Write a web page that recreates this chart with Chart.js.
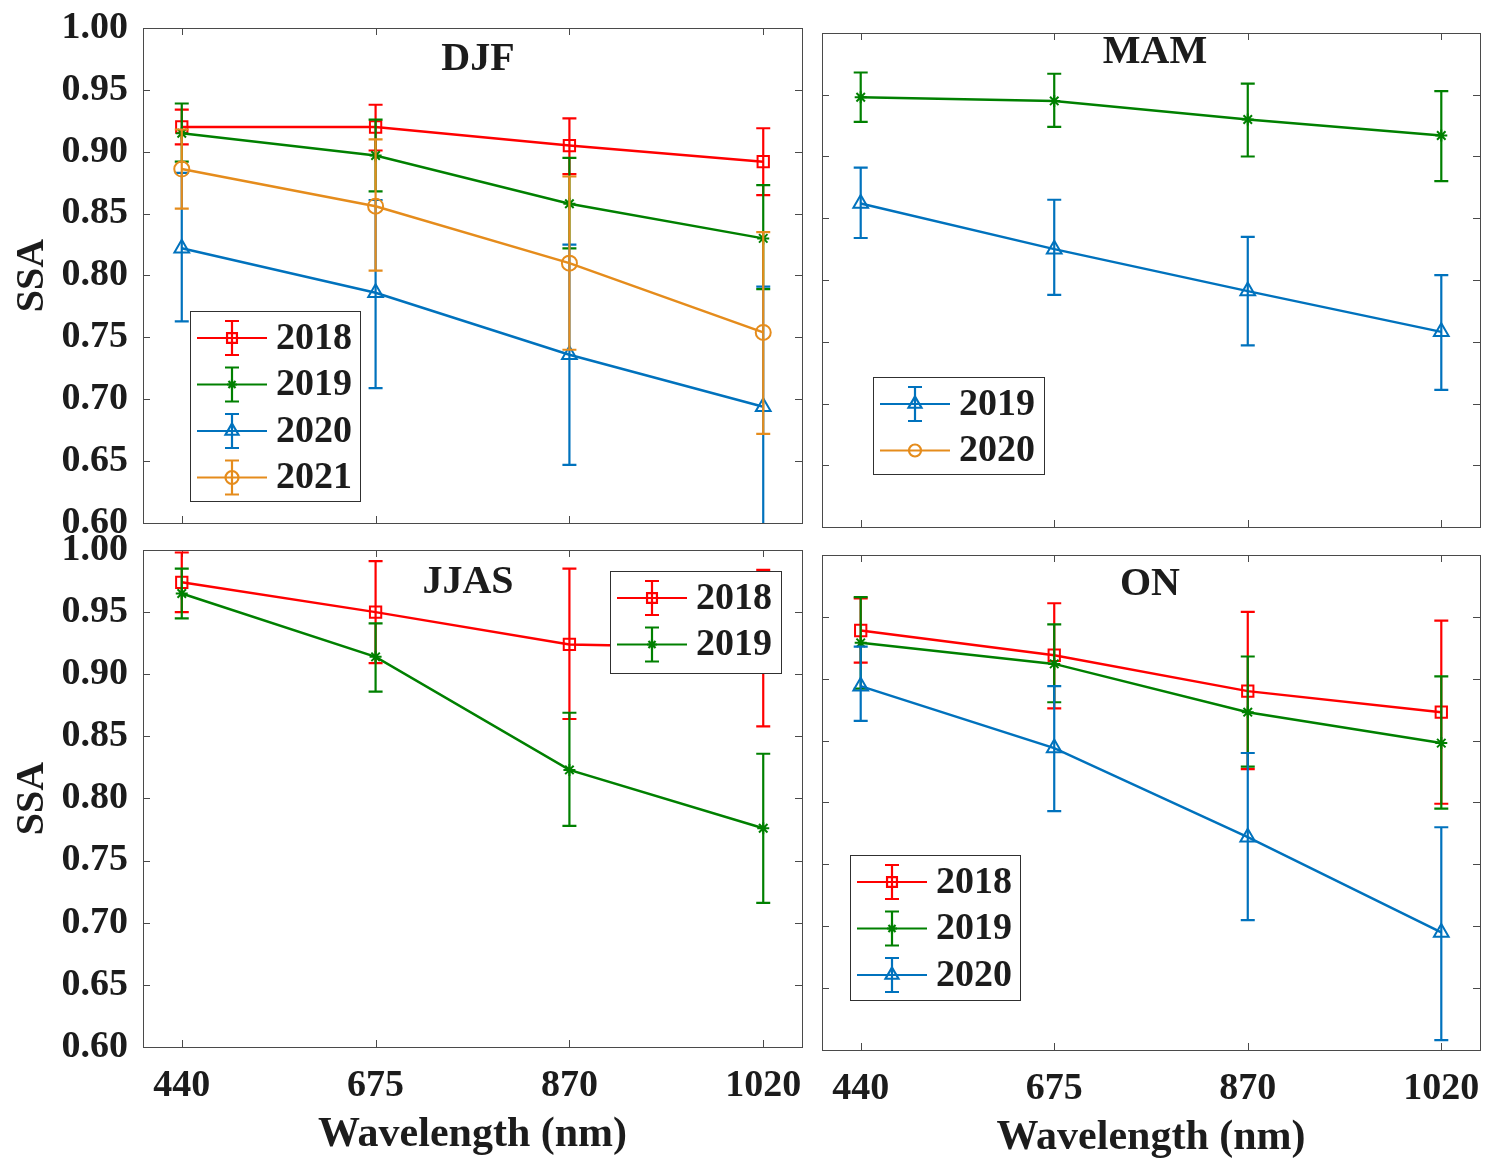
<!DOCTYPE html>
<html>
<head>
<meta charset="utf-8">
<script src="https://cdn.jsdelivr.net/npm/chart.js@4.4.0/dist/chart.umd.min.js"></script>
<style>
  html, body { margin: 0; padding: 0; background: #ffffff; }
  body { width: 1486px; height: 1161px; position: relative; overflow: hidden; }
  canvas { position: absolute; }
</style>
</head>
<body>
<canvas id="djf" width="812" height="560" style="left:0px;top:0px"></canvas>
<canvas id="mam" width="674" height="560" style="left:812px;top:0px"></canvas>
<canvas id="jjas" width="812" height="651" style="left:0px;top:510px"></canvas>
<canvas id="on" width="674" height="651" style="left:812px;top:510px"></canvas>
<script>
// Wavelength categories and SSA tick values
const wavelengths = ['440', '675', '870', '1020'];
const ssaTicks = [0.60, 0.65, 0.70, 0.75, 0.80, 0.85, 0.90, 0.95, 1.00];

// DJF season: mean SSA and lower/upper error-bar ends
const djf2018 = [0.920, 0.920, 0.905, 0.892];
const djf2018Low = [0.906, 0.901, 0.882, 0.865];
const djf2018High = [0.934, 0.938, 0.927, 0.919];
const djf2019 = [0.915, 0.897, 0.858, 0.830];
const djf2019Low = [0.892, 0.868, 0.822, 0.789];
const djf2019High = [0.939, 0.926, 0.895, 0.873];
const djf2020 = [0.822, 0.786, 0.736, 0.694];
const djf2020Low = [0.763, 0.709, 0.647, 0.597];
const djf2020High = [0.883, 0.861, 0.825, 0.791];
const djf2021 = [0.886, 0.856, 0.810, 0.754];
const djf2021Low = [0.854, 0.804, 0.740, 0.672];
const djf2021High = [0.918, 0.910, 0.880, 0.835];

// MAM season
const mam2019 = [0.948, 0.945, 0.930, 0.917];
const mam2019Low = [0.928, 0.924, 0.900, 0.880];
const mam2019High = [0.968, 0.967, 0.959, 0.953];
const mam2020 = [0.862, 0.825, 0.791, 0.758];
const mam2020Low = [0.834, 0.788, 0.747, 0.711];
const mam2020High = [0.891, 0.865, 0.835, 0.804];

// JJAS season
const jjas2018 = [0.974, 0.950, 0.924, 0.921];
const jjas2018Low = [0.950, 0.909, 0.864, 0.858];
const jjas2018High = [0.998, 0.991, 0.985, 0.984];
const jjas2019 = [0.965, 0.914, 0.823, 0.776];
const jjas2019Low = [0.945, 0.886, 0.778, 0.716];
const jjas2019High = [0.985, 0.941, 0.869, 0.836];

// ON season
const on2018 = [0.939, 0.919, 0.890, 0.873];
const on2018Low = [0.913, 0.876, 0.827, 0.799];
const on2018High = [0.965, 0.961, 0.954, 0.947];
const on2019 = [0.929, 0.912, 0.873, 0.848];
const on2019Low = [0.892, 0.881, 0.829, 0.795];
const on2019High = [0.966, 0.944, 0.918, 0.902];
const on2020 = [0.894, 0.844, 0.772, 0.695];
const on2020Low = [0.866, 0.793, 0.705, 0.608];
const on2020High = [0.926, 0.894, 0.840, 0.780];

// Line/marker style per year
const yearStyle = {
  '2018': { color: '#ff0000', marker: 'rect', radius: 8 },
  '2019': { color: '#008000', marker: 'star', radius: 6 },
  '2020': { color: '#0072bd', marker: 'triangle', radius: 8.5 },
  '2021': { color: '#e58c1c', marker: 'circle', radius: 7.5 }
};

const FONT = "'Liberation Serif', 'Times New Roman', serif";
const TEXT = '#1c1c1c';
const FRAME = '#4a4a4a';

function series(year, values, low, high, idx) {
  const s = yearStyle[year];
  return {
    label: year,
    data: values.map((v, i) => ({ x: i, y: v })),
    lower: low,
    upper: high,
    borderColor: s.color,
    backgroundColor: 'rgba(0,0,0,0)',
    pointBorderColor: s.color,
    pointBackgroundColor: 'rgba(0,0,0,0)',
    pointStyle: s.marker,
    pointRadius: s.radius,
    pointBorderWidth: 2,
    borderWidth: 2.5,
    tension: 0,
    order: -idx
  };
}

// Vertical error bars with caps, drawn under each dataset's line
const errorBars = {
  id: 'errorBars',
  beforeDatasetDraw(chart, args) {
    const ds = chart.data.datasets[args.index];
    if (!ds.lower) return;
    const { ctx, chartArea: a } = chart;
    const xs = chart.scales.x, ys = chart.scales.y;
    ctx.save();
    ctx.beginPath();
    ctx.rect(a.left, a.top, a.right - a.left, a.bottom - a.top);
    ctx.clip();
    ctx.strokeStyle = ds.borderColor;
    ctx.lineWidth = 2.2;
    ds.data.forEach((p, i) => {
      const px = xs.getPixelForValue(p.x);
      const lo = ys.getPixelForValue(ds.lower[i]);
      const hi = ys.getPixelForValue(ds.upper[i]);
      ctx.beginPath();
      ctx.moveTo(px, lo); ctx.lineTo(px, hi);
      ctx.moveTo(px - 7, lo); ctx.lineTo(px + 7, lo);
      ctx.moveTo(px - 7, hi); ctx.lineTo(px + 7, hi);
      ctx.stroke();
    });
    ctx.restore();
  }
};

// Axes box with inward ticks on all four sides, panel title and legend
const panelDecor = {
  id: 'panelDecor',
  beforeDatasetsDraw(chart, args, opts) {
    const { ctx, chartArea: a } = chart;
    const xs = chart.scales.x, ys = chart.scales.y;
    ctx.save();
    ctx.strokeStyle = FRAME;
    ctx.lineWidth = 1;
    ctx.beginPath();
    ys.ticks.forEach(t => {
      const py = Math.round(ys.getPixelForValue(t.value)) + 0.5;
      ctx.moveTo(a.left, py); ctx.lineTo(a.left + 7, py);
      ctx.moveTo(a.right, py); ctx.lineTo(a.right - 7, py);
    });
    xs.ticks.forEach(t => {
      const px = Math.round(xs.getPixelForValue(t.value)) + 0.5;
      ctx.moveTo(px, a.bottom); ctx.lineTo(px, a.bottom - 7);
      ctx.moveTo(px, a.top); ctx.lineTo(px, a.top + 7);
    });
    ctx.stroke();
    ctx.strokeRect(Math.round(a.left) + 0.5, Math.round(a.top) + 0.5,
                   Math.round(a.right - a.left), Math.round(a.bottom - a.top));
    ctx.restore();
  },
  afterDraw(chart, args, opts) {
    const ctx = chart.ctx;
    ctx.save();
    ctx.fillStyle = TEXT;
    ctx.font = `bold 40px ${FONT}`;
    ctx.textAlign = 'center';
    ctx.textBaseline = 'middle';
    ctx.fillText(opts.title, opts.titleX, opts.titleY);

    const lg = opts.legend;
    ctx.fillStyle = '#ffffff';
    ctx.fillRect(lg.x, lg.y, lg.w, lg.h);
    ctx.strokeStyle = '#303030';
    ctx.lineWidth = 1;
    ctx.strokeRect(lg.x + 0.5, lg.y + 0.5, lg.w, lg.h);
    lg.rows.forEach((r, i) => {
      const cy = lg.y + 27 + i * 46.5;
      const mx = lg.x + 42;
      ctx.strokeStyle = r.color;
      ctx.lineWidth = 2.2;
      ctx.beginPath();
      ctx.moveTo(lg.x + 7, cy); ctx.lineTo(lg.x + 77, cy);
      if (r.bar) {
        ctx.moveTo(mx, cy - 17); ctx.lineTo(mx, cy + 17);
        ctx.moveTo(mx - 7, cy - 17); ctx.lineTo(mx + 7, cy - 17);
        ctx.moveTo(mx - 7, cy + 17); ctx.lineTo(mx + 7, cy + 17);
      }
      ctx.stroke();
      ctx.fillStyle = 'rgba(0,0,0,0)';
      Chart.helpers.drawPoint(ctx, { pointStyle: r.marker, radius: r.radius, borderWidth: 2, rotation: 0 }, mx, cy);
      ctx.fillStyle = TEXT;
      ctx.font = `bold 38px ${FONT}`;
      ctx.textAlign = 'left';
      ctx.textBaseline = 'middle';
      ctx.fillText(r.label, lg.x + 86, cy + 1);
    });
    ctx.restore();
  }
};

function legendRows(years) {
  return years.map(y => ({ label: y, color: yearStyle[y].color, marker: yearStyle[y].marker,
                           radius: yearStyle[y].radius - 1, bar: true }));
}

// Fixed scale box sizes; tick labels may overhang the plot edges freely
function fixBox(s, prop, size) {
  s[prop] = size;
  s.paddingLeft = 0; s.paddingRight = 0; s.paddingTop = 0; s.paddingBottom = 0;
}

function makePanel(id, cfg) {
  const canvas = document.getElementById(id);
  return new Chart(canvas, {
    type: 'line',
    data: { datasets: cfg.datasets },
    plugins: [errorBars, panelDecor],
    options: {
      responsive: false,
      animation: false,
      events: [],
      layout: {
        autoPadding: false,
        padding: { top: cfg.padTop, right: cfg.padRight, left: 0, bottom: 0 }
      },
      plugins: {
        legend: { display: false },
        tooltip: { enabled: false },
        panelDecor: { title: cfg.title, titleX: cfg.titleX, titleY: cfg.titleY, legend: cfg.legend }
      },
      scales: {
        x: {
          type: 'linear',
          min: -0.2,
          max: 3.2,
          afterBuildTicks: s => { s.ticks = wavelengths.map((w, i) => ({ value: i })); },
          afterFit: s => fixBox(s, 'height', cfg.xHeight),
          grid: { display: false, drawTicks: false },
          border: { display: false },
          ticks: {
            display: cfg.xLabels,
            autoSkip: false,
            maxRotation: 0,
            padding: 16,
            color: TEXT,
            font: { family: FONT, size: 38, weight: 'bold', lineHeight: 1.2 },
            callback: v => wavelengths[v]
          },
          title: {
            display: cfg.xLabels,
            text: 'Wavelength (nm)',
            color: TEXT,
            padding: { top: 0, bottom: cfg.xTitlePad },
            font: { family: FONT, size: 42, weight: 'bold', lineHeight: 1.1 }
          }
        },
        y: {
          type: 'linear',
          min: 0.6,
          max: 1.0,
          afterBuildTicks: s => { s.ticks = ssaTicks.map(v => ({ value: v })); },
          afterFit: s => fixBox(s, 'width', cfg.yWidth),
          grid: { display: false, drawTicks: false },
          border: { display: false },
          ticks: {
            display: cfg.yLabels,
            autoSkip: false,
            padding: 15,
            color: TEXT,
            font: { family: FONT, size: 38, weight: 'bold', lineHeight: 1.2 },
            callback: v => Number(v).toFixed(2)
          },
          title: {
            display: cfg.yLabels,
            text: 'SSA',
            color: TEXT,
            padding: { top: 9, bottom: 0 },
            font: { family: FONT, size: 40, weight: 'bold', lineHeight: 1.2 }
          }
        }
      }
    }
  });
}

function build() {
  makePanel('djf', {
    title: 'DJF', titleX: 478, titleY: 60,
    padTop: 28, padRight: 10, xHeight: 37, yWidth: 143, xLabels: false, yLabels: true, xTitlePad: 0,
    datasets: [
      series('2018', djf2018, djf2018Low, djf2018High, 0),
      series('2019', djf2019, djf2019Low, djf2019High, 1),
      series('2020', djf2020, djf2020Low, djf2020High, 2),
      series('2021', djf2021, djf2021Low, djf2021High, 3)
    ],
    legend: { x: 190, y: 311, w: 170, h: 190, rows: legendRows(['2018', '2019', '2020', '2021']) }
  });

  makePanel('mam', {
    title: 'MAM', titleX: 343, titleY: 53,
    padTop: 33, padRight: 6, xHeight: 33, yWidth: 10, xLabels: false, yLabels: false, xTitlePad: 0,
    datasets: [
      series('2019', mam2019, mam2019Low, mam2019High, 0),
      series('2020', mam2020, mam2020Low, mam2020High, 1)
    ],
    legend: { x: 61, y: 377, w: 171, h: 97, rows: [
      { label: '2019', color: yearStyle['2020'].color, marker: 'triangle', radius: 7.5, bar: true },
      { label: '2020', color: yearStyle['2021'].color, marker: 'circle', radius: 6, bar: false }
    ] }
  });

  makePanel('jjas', {
    title: 'JJAS', titleX: 468, titleY: 73,
    padTop: 40, padRight: 10, xHeight: 114, yWidth: 143, xLabels: true, yLabels: true, xTitlePad: 3,
    datasets: [
      series('2018', jjas2018, jjas2018Low, jjas2018High, 0),
      series('2019', jjas2019, jjas2019Low, jjas2019High, 1)
    ],
    legend: { x: 610, y: 61, w: 171, h: 102, rows: legendRows(['2018', '2019']) }
  });

  makePanel('on', {
    title: 'ON', titleX: 338, titleY: 75,
    padTop: 45, padRight: 6, xHeight: 111, yWidth: 10, xLabels: true, yLabels: false, xTitlePad: 0,
    datasets: [
      series('2018', on2018, on2018Low, on2018High, 0),
      series('2019', on2019, on2019Low, on2019High, 1),
      series('2020', on2020, on2020Low, on2020High, 2)
    ],
    legend: { x: 38, y: 345, w: 170, h: 145, rows: legendRows(['2018', '2019', '2020']) }
  });
}

if (document.fonts && document.fonts.load) {
  document.fonts.load(`bold 38px 'Liberation Serif'`).then(build, build);
} else {
  build();
}
</script>
</body>
</html>
